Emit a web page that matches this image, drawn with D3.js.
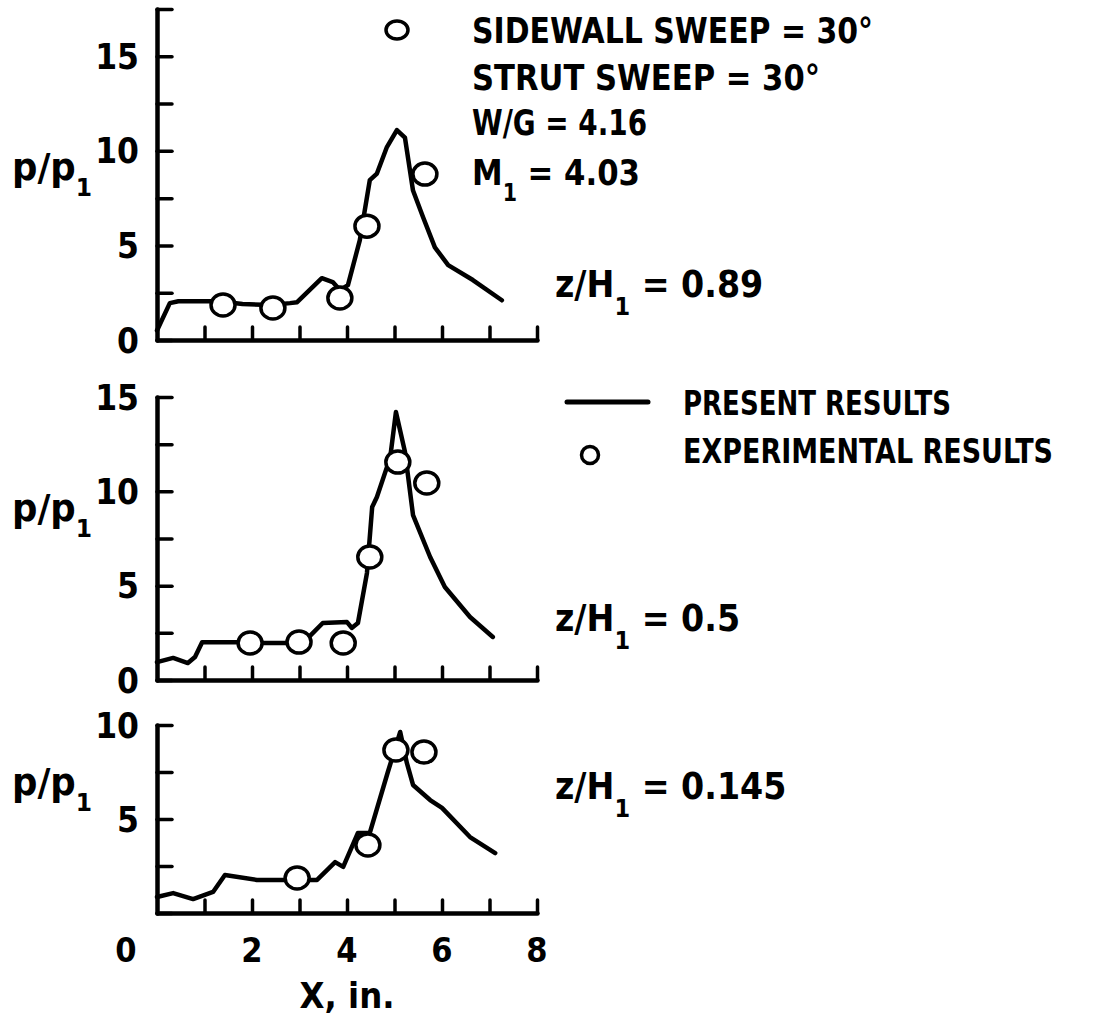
<!DOCTYPE html>
<html>
<head>
<meta charset="utf-8">
<script src="https://cdn.jsdelivr.net/npm/d3@7"></script>
<style>
  html, body { margin: 0; padding: 0; background: #fff; }
  svg { display: block; }
  text { font-family: "DejaVu Sans Condensed", "DejaVu Sans", sans-serif; font-weight: bold; fill: #000; }
</style>
</head>
<body>
<svg id="chart" width="1114" height="1017"></svg>
<script>
// ---------------- DATA ----------------
const xTickValues = [1, 2, 3, 4, 5, 6, 7, 8];
const xTickLabels = [0, 2, 4, 6, 8];
const panelYMax = [17.5, 15, 10];
const yTickLabels = [[0, 5, 10, 15], [0, 5, 10, 15], [5, 10]];
const zLabels = ["0.89", "0.5", "0.145"];

// z/H1 = 0.89 : present results (line)
const lineTop = [[0, 0.5], [0.27, 1.95], [0.45, 2.05], [1.3, 2.05], [1.8, 1.9], [2.4, 1.85], [2.8, 1.95], [2.95, 2.0],
  [3.47, 3.27], [3.7, 3.06], [3.85, 2.64], [4.02, 2.9], [4.27, 5.28], [4.48, 8.45], [4.63, 8.8], [4.84, 10.2],
  [5.05, 11.1], [5.22, 10.7], [5.39, 7.9], [5.6, 6.5], [5.85, 4.9], [6.13, 3.96], [6.65, 3.17], [7.26, 2.1]];
// z/H1 = 0.89 : experimental results (circles)
const expTop = [[1.39, 1.85], [2.44, 1.69], [3.85, 2.22], [4.42, 6.02], [5.64, 8.77]];

// z/H1 = 0.5
const lineMid = [[0, 0.95], [0.34, 1.17], [0.65, 0.9], [0.8, 1.22], [0.95, 2.0], [1.75, 2.0], [2.17, 1.96], [2.76, 1.96],
  [3.18, 2.23], [3.49, 3.02], [4.0, 3.07], [4.1, 2.76], [4.23, 3.02], [4.42, 5.67], [4.53, 9.17], [4.63, 9.7],
  [4.91, 11.8], [5.03, 14.2], [5.22, 12.1], [5.39, 8.74], [5.75, 6.52], [6.06, 4.93], [6.59, 3.34], [7.07, 2.28]];
const expMid = [[1.96, 1.96], [2.99, 2.01], [3.92, 1.96], [4.48, 6.52], [5.07, 11.55], [5.68, 10.44]];

// z/H1 = 0.145
const lineBot = [[0, 0.85], [0.34, 1.06], [0.76, 0.74], [1.18, 1.12], [1.43, 2.02], [2.1, 1.76], [2.74, 1.76], [3.37, 1.76],
  [3.75, 2.71], [3.92, 2.45], [4.23, 4.26], [4.48, 4.26], [4.86, 7.5], [5.12, 9.63], [5.26, 7.98], [5.39, 6.81],
  [5.75, 6.01], [6.0, 5.59], [6.59, 4.04], [7.12, 3.19]];
const expBot = [[2.95, 1.86], [4.44, 3.62], [5.03, 8.67], [5.62, 8.56]];

const lines = [lineTop, lineMid, lineBot];
const exps = [expTop, expMid, expBot];

// ---------------- LAYOUT ----------------
const svg = d3.select("#chart");
const panelBase = [340, 680, 913];
const panelTopPx = [9, 397, 725];
const ppLabelBaseline = [180, 521, 795];
const zLabelBaseline = [297, 631, 799];

const x = d3.scaleLinear().domain([0, 8]).range([157, 537]);

const lineGen = d3.line().x(d => x(d[0]));

panelYMax.forEach((ymax, i) => {
  const y = d3.scaleLinear().domain([0, ymax]).range([panelBase[i], panelTopPx[i]]);
  const g = svg.append("g");

  // y axis (ticks point inward)
  const ya = g.append("g").attr("transform", `translate(${x(0)},0)`)
    .call(d3.axisRight(y).tickValues(d3.range(0, ymax + 0.001, 2.5)).tickSize(15).tickSizeOuter(0).tickFormat(""));
  ya.select(".domain").attr("stroke", "#000").attr("stroke-width", 4.5).attr("stroke-linecap", "round");
  ya.selectAll(".tick line").attr("stroke", "#000").attr("stroke-width", 3.5).attr("stroke-linecap", "round");

  // x axis (ticks point up)
  const xa = g.append("g").attr("transform", `translate(0,${panelBase[i]})`)
    .call(d3.axisTop(x).tickValues(xTickValues).tickSize(13).tickSizeOuter(0).tickFormat(""));
  xa.select(".domain").attr("stroke", "#000").attr("stroke-width", 4.5).attr("stroke-linecap", "round");
  xa.selectAll(".tick line").attr("stroke", "#000").attr("stroke-width", 3.5).attr("stroke-linecap", "round");

  // y tick labels
  g.selectAll("text.ytl").data(yTickLabels[i]).enter().append("text")
    .attr("class", "ytl")
    .attr("x", 139)
    .attr("y", d => y(d))
    .attr("dy", "0.36em")
    .attr("text-anchor", "end")
    .attr("font-size", 35)
    .text(d => d);

  // p/p1 label
  const pl = g.append("text").attr("x", 12).attr("y", ppLabelBaseline[i]).attr("font-size", 38)
    .attr("textLength", 80).attr("lengthAdjust", "spacingAndGlyphs");
  pl.append("tspan").text("p/p");
  pl.append("tspan").attr("dy", 16).attr("font-size", 25).text("1");

  // z/H1 label
  const zl = g.append("text").attr("x", 555).attr("y", zLabelBaseline[i]).attr("font-size", 37);
  zl.append("tspan").text("z/H");
  zl.append("tspan").attr("dy", 18).attr("font-size", 25).text("1");
  zl.append("tspan").attr("dy", -18).text(" = " + zLabels[i]);

  // present results
  g.append("path")
    .attr("d", lineGen.y(d => y(d[1]))(lines[i]))
    .attr("fill", "none")
    .attr("stroke", "#000")
    .attr("stroke-width", 4.5)
    .attr("stroke-linejoin", "round")
    .attr("stroke-linecap", "round");

  // experimental results
  g.selectAll("ellipse.exp").data(exps[i]).enter().append("ellipse")
    .attr("class", "exp")
    .attr("cx", d => x(d[0]))
    .attr("cy", d => y(d[1]))
    .attr("rx", 12).attr("ry", 11)
    .attr("fill", "#fff")
    .attr("stroke", "#000")
    .attr("stroke-width", 3.5);
});

// x tick labels (bottom panel only)
svg.selectAll("text.xtl").data(xTickLabels).enter().append("text")
  .attr("class", "xtl")
  .attr("x", d => d === 0 ? x(0) - 31 : x(d))
  .attr("y", 962)
  .attr("text-anchor", "middle")
  .attr("font-size", 34)
  .text(d => d);

svg.append("text").attr("x", x(4)).attr("y", 1008).attr("text-anchor", "middle")
  .attr("font-size", 36).text("X, in.");

// ---------------- TOP LEGEND (conditions) ----------------
svg.append("ellipse").attr("cx", 397).attr("cy", 30).attr("rx", 11).attr("ry", 9)
  .attr("fill", "#fff").attr("stroke", "#000").attr("stroke-width", 3.5);

const condLines = [
  { t: "SIDEWALL SWEEP = 30°", y: 43, w: 401 },
  { t: "STRUT SWEEP = 30°", y: 90, w: 348 },
  { t: "W/G = 4.16", y: 135, w: 175 }
];
condLines.forEach(c => {
  svg.append("text").attr("x", 472).attr("y", c.y).attr("font-size", 36)
    .attr("textLength", c.w).attr("lengthAdjust", "spacingAndGlyphs").text(c.t);
});
const mt = svg.append("text").attr("x", 472).attr("y", 185).attr("font-size", 36)
  .attr("textLength", 168).attr("lengthAdjust", "spacingAndGlyphs");
mt.append("tspan").text("M");
mt.append("tspan").attr("dy", 16).attr("font-size", 24).text("1");
mt.append("tspan").attr("dy", -16).text(" = 4.03");

// ---------------- MIDDLE LEGEND ----------------
svg.append("line").attr("x1", 567).attr("x2", 648).attr("y1", 402).attr("y2", 402)
  .attr("stroke", "#000").attr("stroke-width", 5).attr("stroke-linecap", "round");
svg.append("text").attr("x", 683).attr("y", 415).attr("font-size", 34)
  .attr("textLength", 268).attr("lengthAdjust", "spacingAndGlyphs").text("PRESENT RESULTS");
svg.append("ellipse").attr("cx", 590).attr("cy", 455).attr("rx", 8.5).attr("ry", 8.5)
  .attr("fill", "#fff").attr("stroke", "#000").attr("stroke-width", 3.5);
svg.append("text").attr("x", 683).attr("y", 463).attr("font-size", 34)
  .attr("textLength", 370).attr("lengthAdjust", "spacingAndGlyphs").text("EXPERIMENTAL RESULTS");
</script>
</body>
</html>
